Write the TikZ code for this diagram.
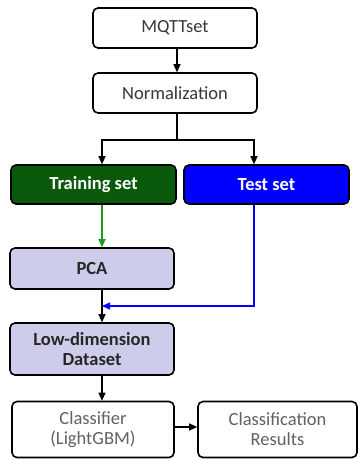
\documentclass[tikz,border=0pt]{standalone}
\usepackage{fontspec}
\setmainfont{Carlito}
\usetikzlibrary{arrows.meta}
\definecolor{txtgray}{HTML}{383838}
\definecolor{dkgreen}{HTML}{0B5A0B}
\definecolor{pureblue}{HTML}{0000FF}
\definecolor{lav}{HTML}{CDCDEB}
\definecolor{arrgreen}{HTML}{1E9A1E}
\tikzset{
  box/.style={draw=black, line width=1.6pt, rounded corners=5pt, align=center, inner sep=0pt, font=\fontsize{18.5}{20}\selectfont},
  plainbox/.style={box, fill=white, text=txtgray},
  lavbox/.style={box, fill=lav, text=black!85, font=\fontsize{18.5}{20}\selectfont\bfseries},
  arr/.style={line width=1.2pt, -{Triangle[length=8pt,width=7pt]}},
}
\begin{document}
\begin{tikzpicture}[x=1pt,y=1pt]
\useasboundingbox (0,0) rectangle (358,-459);
\node[plainbox, minimum width=164pt, minimum height=40pt] (mqtt) at (175,-28) {MQTTset};
\node[plainbox, minimum width=164pt, minimum height=40pt] (norm) at (175,-93) {Normalization};
\node[box, fill=dkgreen, text=white, font=\fontsize{18.5}{20}\selectfont\bfseries, minimum width=165pt, minimum height=39pt] (train) at (93.5,-184.5) {Training set};
\node[box, fill=pureblue, text=white, font=\fontsize{18.5}{20}\selectfont\bfseries, minimum width=165pt, minimum height=39pt] (test) at (266.5,-184.5) {Test set};
\node[lavbox, minimum width=164pt, minimum height=41pt] (pca) at (92,-268.5) {PCA};
\node[lavbox, minimum width=164pt, minimum height=52pt] (low) at (92,-349) {Low-dimension\\Dataset};
\node[plainbox, text=black!62, minimum width=162pt, minimum height=56pt] (clf) at (93,-429.5) {Classifier\\(LightGBM)};
\node[plainbox, text=black!62, minimum width=159pt, minimum height=56pt] (res) at (277.5,-429.5) {Classification\\Results};
\coordinate (lx) at (102,0);
\coordinate (rx) at (254,0);
\coordinate (split) at (177,-140);
\coordinate (join) at (102,-306);
\draw[arr] (mqtt.south -| split) -- (norm.north -| split);
\draw[line width=1.2pt] (norm.south -| split) -- (split);
\draw[arr] (split) -| (train.north -| lx);
\draw[arr] (split) -| (test.north -| rx);
\draw[arr, draw=arrgreen, fill=arrgreen] (train.south -| lx) -- (pca.north -| lx);
\draw[arr, draw=pureblue] (test.south -| rx) |- (join);
\draw[arr] (pca.south -| lx) -- (low.north -| lx);
\draw[arr] (low.south -| lx) -- (clf.north -| lx);
\draw[arr] (clf.east |- 0,-427) -- (res.west |- 0,-427);
\end{tikzpicture}
\end{document}
